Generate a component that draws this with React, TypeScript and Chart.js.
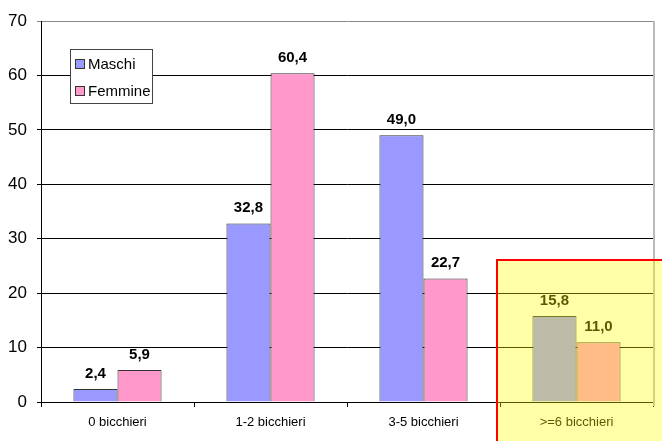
import React, { useEffect, useRef } from "react";
import { Chart, registerables } from "chart.js";

Chart.register(...registerables);

const categories = ["0 bicchieri", "1-2 bicchieri", "3-5 bicchieri", ">=6 bicchieri"];
const maschi = [2.4, 32.8, 49.0, 15.8];
const femmine = [5.9, 60.4, 22.7, 11.0];
const seriesNames = ["Maschi", "Femmine"];
const yTicks = [0, 10, 20, 30, 40, 50, 60, 70];

const BLUE = "#9999FF";
const PINK = "#FF99CC";
const FONT = "'Liberation Sans', Arial, sans-serif";

const fmt = (v: number) => v.toFixed(1).replace(".", ",");

// value labels above each bar
const valueLabels = {
  id: "valueLabels",
  afterDatasetsDraw(chart: any) {
    const { ctx } = chart;
    ctx.save();
    ctx.font = `bold 15px ${FONT}`;
    ctx.fillStyle = "#000";
    ctx.textAlign = "center";
    ctx.textBaseline = "alphabetic";
    chart.data.datasets.forEach((ds: any, di: number) => {
      const meta = chart.getDatasetMeta(di);
      meta.data.forEach((bar: any, i: number) => {
        ctx.fillText(fmt(ds.data[i]), bar.x, bar.y - 11);
      });
    });
    ctx.restore();
  },
};

// boxed legend inside the plot, right border, and highlighted last group
const decorations = {
  id: "decorations",
  afterDraw(chart: any) {
    const { ctx, chartArea } = chart;
    ctx.save();

    // right border of plot area
    ctx.strokeStyle = "#BBBBBB";
    ctx.lineWidth = 2;
    ctx.beginPath();
    ctx.moveTo(chartArea.right + 1, chartArea.top);
    ctx.lineTo(chartArea.right + 1, chartArea.bottom + 4);
    ctx.stroke();

    // legend
    ctx.fillStyle = "#fff";
    ctx.fillRect(70, 49, 82, 54);
    ctx.strokeStyle = "#444";
    ctx.lineWidth = 1;
    ctx.strokeRect(70.5, 49.5, 82, 54);
    const colors = [BLUE, PINK];
    const rows = [64, 91];
    ctx.font = `15px ${FONT}`;
    ctx.textBaseline = "middle";
    ctx.textAlign = "left";
    seriesNames.forEach((name, i) => {
      const cy = rows[i];
      ctx.fillStyle = colors[i];
      ctx.fillRect(75, cy - 5, 9, 9);
      ctx.strokeStyle = "#333";
      ctx.strokeRect(75.5, cy - 4.5, 9, 9);
      ctx.fillStyle = "#000";
      ctx.fillText(name, 88, cy + 1);
    });

    // highlight of the ">=6 bicchieri" group
    ctx.fillStyle = "rgba(255,255,0,0.34)";
    ctx.fillRect(496, 259, 200, 200);
    ctx.strokeStyle = "#FF0000";
    ctx.lineWidth = 2;
    ctx.strokeRect(497, 260, 200, 200);

    ctx.restore();
  },
};

export default function App() {
  const ref = useRef<HTMLCanvasElement | null>(null);

  useEffect(() => {
    if (!ref.current) return;
    const chart = new Chart(ref.current, {
      type: "bar",
      data: {
        labels: categories,
        datasets: [
          {
            label: seriesNames[0],
            data: maschi,
            backgroundColor: BLUE,
            borderColor: "#333",
            borderWidth: 1,
            categoryPercentage: 0.576,
            barPercentage: 1,
          },
          {
            label: seriesNames[1],
            data: femmine,
            backgroundColor: PINK,
            borderColor: "#333",
            borderWidth: 1,
            categoryPercentage: 0.576,
            barPercentage: 1,
          },
        ],
      },
      options: {
        animation: false,
        responsive: false,
        maintainAspectRatio: false,
        layout: { padding: { top: 21, right: 9, left: 0, bottom: 0 } },
        plugins: {
          legend: { display: false },
          tooltip: { enabled: false },
        },
        scales: {
          x: {
            afterFit(scale: any) {
              scale.height = 39;
            },
            grid: {
              offset: true,
              drawOnChartArea: false,
              drawTicks: true,
              tickLength: 5,
              color: "#000",
            },
            border: { color: "#000", width: 1 },
            ticks: {
              color: "#000",
              font: { family: FONT, size: 13 },
              padding: 8,
              maxRotation: 0,
            },
          },
          y: {
            min: 0,
            max: 70,
            afterFit(scale: any) {
              scale.width = 41;
            },
            afterBuildTicks(scale: any) {
              scale.ticks = yTicks.map((v) => ({ value: v }));
            },
            grid: {
              color: (c: any) => (c.tick && c.tick.value === 70 ? "#888" : "#000"),
              tickLength: 4,
              lineWidth: 1,
            },
            border: { color: "#000", width: 1 },
            ticks: {
              color: "#000",
              font: { family: FONT, size: 17 },
              padding: 10,
              stepSize: 10,
            },
          },
        },
      },
      plugins: [valueLabels, decorations],
    } as any);
    return () => chart.destroy();
  }, []);

  return (
    <div style={{ position: "fixed", left: 0, top: 0, width: 662, height: 441, background: "#fff" }}>
      <canvas ref={ref} width={662} height={441} style={{ width: 662, height: 441, display: "block" }} />
    </div>
  );
}
